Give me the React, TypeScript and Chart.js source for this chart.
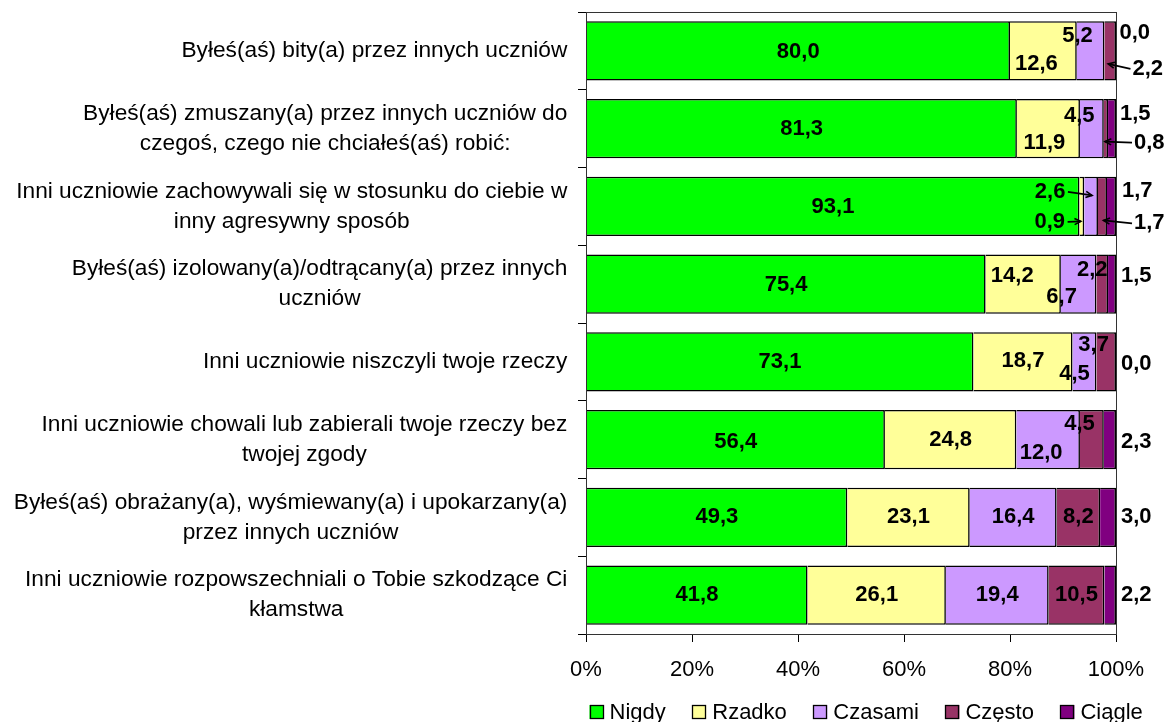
import React, { useEffect, useRef } from 'react';
import { Chart, registerables } from 'chart.js';

Chart.register(...registerables);

// ---------- data ----------
const categories: string[][] = [
  ['Byłeś(aś) bity(a) przez innych uczniów'],
  ['Byłeś(aś) zmuszany(a) przez innych uczniów do', 'czegoś, czego nie chciałeś(aś) robić:'],
  ['Inni uczniowie zachowywali się w stosunku do ciebie w', 'inny agresywny sposób'],
  ['Byłeś(aś) izolowany(a)/odtrącany(a) przez innych', 'uczniów'],
  ['Inni uczniowie niszczyli twoje rzeczy'],
  ['Inni uczniowie chowali lub zabierali twoje rzeczy bez', 'twojej zgody'],
  ['Byłeś(aś) obrażany(a), wyśmiewany(a) i upokarzany(a)', 'przez innych uczniów'],
  ['Inni uczniowie rozpowszechniali o Tobie szkodzące Ci', 'kłamstwa'],
];
const seriesNames = ['Nigdy', 'Rzadko', 'Czasami', 'Często', 'Ciągle'];
const nigdy = [80.0, 81.3, 93.1, 75.4, 73.1, 56.4, 49.3, 41.8];
const rzadko = [12.6, 11.9, 0.9, 14.2, 18.7, 24.8, 23.1, 26.1];
const czasami = [5.2, 4.5, 2.6, 6.7, 4.5, 12.0, 16.4, 19.4];
const czesto = [2.2, 0.8, 1.7, 2.2, 3.7, 4.5, 8.2, 10.5];
const ciagle = [0.0, 1.5, 1.7, 1.5, 0.0, 2.3, 3.0, 2.2];
const xTickValues = [0, 20, 40, 60, 80, 100];

// ---------- styles ----------
const seriesColors = ['#00FF00', '#FFFF99', '#CC99FF', '#993366', '#800080'];
const FONT = 'Arial, "Liberation Sans", Helvetica, sans-serif';

// label placement (manual placement as in the source chart)
type Place = { m: 'c' | 'o'; dx: number; dy: number; tip?: [number, number] };
const C = (dx = 0, dy = 0, tip?: [number, number]): Place => ({ m: 'c', dx, dy, tip });
const O = (dx: number, dy: number, tip?: [number, number]): Place => ({ m: 'o', dx, dy, tip });
const placements: Place[][] = [
  [C(0, 1), C(-7, 13), C(-13, -15), O(16.5, 18, [-2, 13]), O(3.5, -18)],
  [C(0, 0), C(-4, 14), C(-12.7, -13), O(18, 14, [-1, 13]), O(4, -15)],
  [C(0, 1), C(-32, 15.5, [-1, 15]), C(-41, -14.5, [1, -11]), O(18, 17, [1, 14]), O(6, -15.5)],
  [C(0, 1), C(-11, -8), C(-17, 13), C(-10, -14), O(5, -8)],
  [C(0, 0), C(0, -1), C(-10, 11.6), C(-12.6, -16.7), O(5, 1.6)],
  [C(0, 2), C(0, 0), C(-7, 13.7), C(-12.4, -15.3), O(5, 2)],
  [C(0, 0), C(0, 0), C(0, 0), C(0, 0), O(5, 0)],
  [C(0, 0), C(0, 0), C(0, 0), C(0, 0), O(5, 0)],
];

function fmt(v: number) {
  return v.toFixed(1).replace('.', ',');
}

function drawArrow(ctx: CanvasRenderingContext2D, x1: number, y1: number, x2: number, y2: number) {
  ctx.save();
  ctx.strokeStyle = '#000';
  ctx.lineWidth = 1.6;
  ctx.beginPath();
  ctx.moveTo(x1, y1);
  ctx.lineTo(x2, y2);
  ctx.stroke();
  const a = Math.atan2(y2 - y1, x2 - x1);
  const h = 7;
  ctx.beginPath();
  ctx.moveTo(x2 - h * Math.cos(a - 0.45), y2 - h * Math.sin(a - 0.45));
  ctx.lineTo(x2, y2);
  ctx.lineTo(x2 - h * Math.cos(a + 0.45), y2 - h * Math.sin(a + 0.45));
  ctx.stroke();
  ctx.restore();
}

const customPlugin = {
  id: 'customDraw',
  afterDatasetsDraw(chart: any) {
    const ctx: CanvasRenderingContext2D = chart.ctx;
    const area = chart.chartArea;
    // plot area border
    ctx.save();
    ctx.strokeStyle = '#333';
    ctx.lineWidth = 1;
    ctx.strokeRect(Math.round(area.left) + 0.5, Math.round(area.top) + 0.5, Math.round(area.right - area.left), Math.round(area.bottom - area.top));
    ctx.restore();

    // data labels
    ctx.save();
    ctx.font = `bold 22px ${FONT}`;
    ctx.fillStyle = '#000';
    ctx.textBaseline = 'middle';
    chart.data.datasets.forEach((ds: any, s: number) => {
      const meta = chart.getDatasetMeta(s);
      meta.data.forEach((el: any, i: number) => {
        const p = el.getProps(['x', 'y', 'base'], true);
        const segC = (p.x + p.base) / 2;
        const rowC = p.y;
        const pl = placements[i][s];
        const txt = fmt(ds.data[i]);
        const w = ctx.measureText(txt).width;
        let lx: number;
        const ly = rowC + pl.dy;
        if (pl.m === 'c') {
          lx = segC + pl.dx - w / 2;
        } else {
          lx = area.right + pl.dx;
        }
        ctx.textAlign = 'left';
        ctx.fillText(txt, lx, ly);
        if (pl.tip) {
          const tx = segC + pl.tip[0];
          const ty = rowC + pl.tip[1];
          const sx = tx > lx ? lx + w + 2.5 : lx - 2;
          drawArrow(ctx, sx, ly, tx, ty);
        }
      });
    });
    ctx.restore();
  },
  afterDraw(chart: any) {
    const ctx: CanvasRenderingContext2D = chart.ctx;
    const area = chart.chartArea;
    const yScale = chart.scales.y;
    // category labels
    ctx.save();
    ctx.font = `22.7px ${FONT}`;
    ctx.fillStyle = '#000';
    ctx.textBaseline = 'middle';
    ctx.textAlign = 'center';
    const rightX = area.left - 18.7;
    categories.forEach((lines, i) => {
      const yc = yScale.getPixelForValue(i);
      const lh = 30;
      const maxW = Math.max(...lines.map((l) => ctx.measureText(l).width));
      const cx = rightX - maxW / 2;
      const y0 = yc - ((lines.length - 1) * lh) / 2;
      lines.forEach((l, k) => ctx.fillText(l, cx, y0 + k * lh));
    });
    ctx.restore();

    // legend
    ctx.save();
    ctx.font = `22px ${FONT}`;
    ctx.textBaseline = 'middle';
    ctx.textAlign = 'left';
    let x = area.left + 3.5;
    const boxTop = 705;
    chart.data.datasets.forEach((ds: any) => {
      ctx.fillStyle = ds.backgroundColor;
      ctx.fillRect(x, boxTop, 14, 14);
      ctx.strokeStyle = '#000';
      ctx.lineWidth = 1.3;
      ctx.strokeRect(Math.round(x) + 0.5, boxTop + 0.5, 13, 13);
      ctx.fillStyle = '#000';
      ctx.fillText(ds.label, x + 20, boxTop + 7.5);
      x += 20 + ctx.measureText(ds.label).width + 26.5;
    });
    ctx.restore();
  },
};

export default function App() {
  const ref = useRef<HTMLCanvasElement>(null);
  useEffect(() => {
    const canvas = ref.current!;
    const values = [nigdy, rzadko, czasami, czesto, ciagle];
    Chart.defaults.font.family = FONT;
    const chart = new Chart(canvas, {
      type: 'bar',
      data: {
        labels: categories.map((c) => c.join(' ')),
        datasets: seriesNames.map((name, i) => ({
          label: name,
          data: values[i],
          backgroundColor: seriesColors[i],
          borderColor: '#000',
          borderWidth: 1.6,
          categoryPercentage: 1,
          barPercentage: 0.763,
        })),
      },
      options: {
        indexAxis: 'y',
        responsive: false,
        animation: false,
        devicePixelRatio: 1,
        layout: { padding: { top: 12, right: 52, left: 0, bottom: 0 } },
        plugins: {
          legend: { display: false },
          tooltip: { enabled: false },
          title: { display: false },
        },
        scales: {
          x: {
            stacked: true,
            min: 0,
            max: 100,
            position: 'bottom',
            afterFit: (s: any) => {
              s.height = 88;
            },
            afterBuildTicks: (s: any) => {
              s.ticks = xTickValues.map((v) => ({ value: v }));
            },
            ticks: {
              color: '#000',
              font: { size: 22, family: FONT },
              padding: 15,
              maxRotation: 0,
              autoSkip: false,
              callback: (v: any) => `${v}%`,
            },
            grid: { drawOnChartArea: false, drawTicks: true, tickLength: 8, color: '#000', lineWidth: 1 },
            border: { display: true, color: '#000', width: 1 },
          },
          y: {
            stacked: true,
            afterFit: (s: any) => {
              s.width = 586;
            },
            ticks: { display: false },
            grid: { offset: true, drawOnChartArea: false, drawTicks: true, tickLength: 8, color: '#000', lineWidth: 1 },
            border: { display: true, color: '#000', width: 1 },
          },
        },
      },
      plugins: [customPlugin],
    } as any);
    return () => chart.destroy();
  }, []);
  return (
    <div style={{ position: 'absolute', left: 0, top: 0, width: 1168, height: 722, background: '#fff' }}>
      <canvas ref={ref} width={1168} height={722} style={{ display: 'block', width: 1168, height: 722 }} />
    </div>
  );
}
